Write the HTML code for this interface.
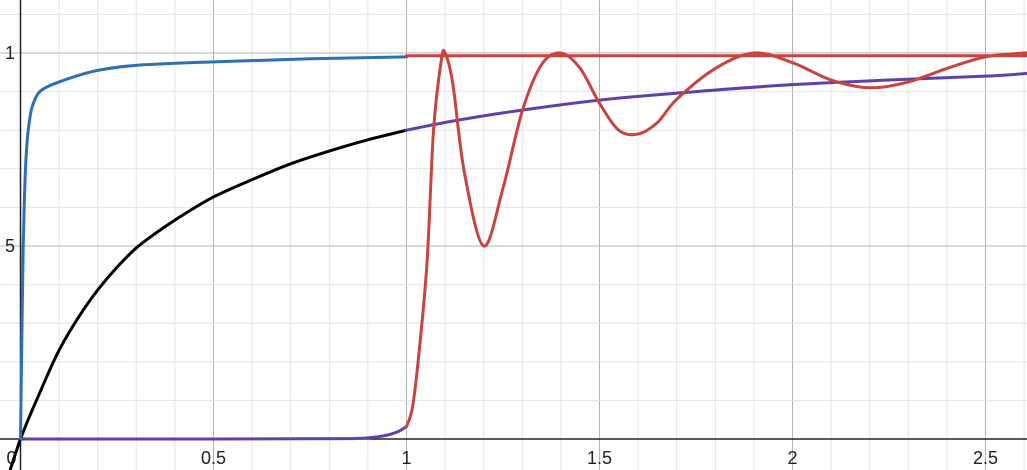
<!DOCTYPE html>
<html><head><meta charset="utf-8"><style>
html,body{margin:0;padding:0;background:#fff;overflow:hidden}
svg{display:block}
text{font-family:"Liberation Sans",sans-serif;font-size:18px;fill:#222}
</style></head><body>
<svg id="chart" width="1027" height="470" viewBox="0 0 1027 470"></svg>
<script>
const blueX=[0,0.004,0.007,0.01,0.015,0.02,0.03,0.05,0.075,0.1,0.15,0.2,0.3,0.5,0.75,1];
const blueY=[0,0.3,0.5,0.62,0.74,0.8,0.86,0.9,0.915,0.925,0.942,0.955,0.968,0.977,0.985,0.99];
const blackX=[-0.03,0,0.05,0.1,0.15,0.2,0.25,0.3,0.35,0.4,0.5,0.6,0.7,0.8,0.9,1];
const blackY=[-0.09,0,0.12,0.23,0.315,0.386,0.445,0.495,0.533,0.567,0.627,0.672,0.713,0.746,0.775,0.8];
const purpleLowX=[0,0.5,0.85,0.9,0.95,0.98,1];
const purpleLowY=[0,0,0.001,0.003,0.01,0.02,0.032];
const purpleHighX=[1,1.1,1.25,1.5,1.75,2,2.25,2.5,2.62];
const purpleHighY=[0.8,0.82,0.845,0.878,0.9,0.918,0.93,0.94,0.948];
const redX=[1,1.015,1.03,1.053,1.07,1.09,1.1,1.12,1.15,1.2,1.25,1.3,1.35,1.4,1.45,1.5,1.55,1.6,1.65,1.7,1.8,1.9,2.0,2.1,2.2,2.3,2.4,2.5,2.6,2.65];
const redY=[0.032,0.08,0.2,0.455,0.8,0.98,1,0.92,0.69,0.5,0.65,0.85,0.97,1,0.96,0.87,0.8,0.79,0.82,0.88,0.96,1,0.975,0.93,0.91,0.925,0.96,0.99,1,1];
const redFlatX=[1,2.66];
const redFlatY=[0.993,0.993];
const xTicks=["0","0.5","1","1.5","2","2.5"];
const xTickVals=[0,0.5,1,1.5,2,2.5];
const yTicks=["1","5"];
const yTickVals=[1,0.5];

const X0=20.5,Y0=439,S=386;
const sx=v=>X0+v*S, sy=v=>Y0-v*S;
const svg=document.getElementById('chart');
const NS='http://www.w3.org/2000/svg';
function mk(tag,attrs){const e=document.createElementNS(NS,tag);for(const k in attrs)e.setAttribute(k,attrs[k]);svg.appendChild(e);return e;}

for(let i=-1;i<=27;i++){
  const v=i/10, major=(i%5===0);
  const l=mk('line',{x1:sx(v),x2:sx(v),y1:0,y2:470,stroke:major?'#b4b4b4':'#e4e4e4','stroke-width':1});
  
  
}
for(let i=-1;i<=12;i++){
  const v=i/10, major=(i%5===0);
  const l=mk('line',{x1:0,x2:1027,y1:sy(v),y2:sy(v),stroke:major?'#b4b4b4':'#e4e4e4','stroke-width':1});
  
  
}
const ax=mk('line',{x1:0,x2:1027,y1:Y0,y2:Y0,stroke:'#222','stroke-width':1.5});


const ay=mk('line',{x1:X0,x2:X0,y1:0,y2:470,stroke:'#222','stroke-width':1.5});



xTicks.forEach((t,i)=>{
  const v=xTickVals[i];
  const tx=mk('text',{x:v===0?sx(v)-14:sx(v),y:464,'text-anchor':v===0?'start':'middle'});
  tx.textContent=t;
  
  
});
yTicks.forEach((t,i)=>{
  const tx=mk('text',{x:15,y:sy(yTickVals[i])+6,'text-anchor':'end'});
  tx.textContent=t;
  
  
});

function monoPath(xs,ys){
  const p=xs.map((x,i)=>[sx(x),sy(ys[i])]);
  const n=p.length;
  if(n<3){return 'M'+p.map(q=>q.join(',')).join(' L');}
  const d=[],m=new Array(n);
  for(let i=0;i<n-1;i++)d.push((p[i+1][1]-p[i][1])/(p[i+1][0]-p[i][0]));
  m[0]=d[0];m[n-1]=d[n-2];
  for(let i=1;i<n-1;i++){
    if(d[i-1]*d[i]<=0)m[i]=0;
    else{const h0=p[i][0]-p[i-1][0],h1=p[i+1][0]-p[i][0];
      const w1=2*h1+h0,w2=h1+2*h0;m[i]=(w1+w2)/(w1/d[i-1]+w2/d[i]);}
  }
  let s='M'+p[0][0]+','+p[0][1];
  for(let i=0;i<n-1;i++){
    const h=(p[i+1][0]-p[i][0])/3;
    s+=' C'+(p[i][0]+h)+','+(p[i][1]+m[i]*h)+' '+(p[i+1][0]-h)+','+(p[i+1][1]-m[i+1]*h)+' '+p[i+1][0]+','+p[i+1][1];
  }
  return s;
}
function crPath(xs,ys){
  const p=xs.map((x,i)=>[sx(x),sy(ys[i])]);
  let d='M'+p[0][0]+','+p[0][1];
  for(let i=0;i<p.length-1;i++){
    const p0=p[Math.max(0,i-1)],p1=p[i],p2=p[i+1],p3=p[Math.min(p.length-1,i+2)];
    const c1=[p1[0]+(p2[0]-p0[0])/6,p1[1]+(p2[1]-p0[1])/6];
    const c2=[p2[0]-(p3[0]-p1[0])/6,p2[1]-(p3[1]-p1[1])/6];
    d+=' C'+c1+' '+c2+' '+p2;
  }
  return d;
}
function series(d,color,name){
  const e=mk('path',{d:d,fill:'none',stroke:color,'stroke-width':3,'stroke-linejoin':'round','stroke-linecap':'round'});
  
  
}
series(monoPath(purpleLowX,purpleLowY),'#6042a6','purple-curve-low');
series(monoPath(blackX,blackY),'#000000','black-curve');
series(monoPath(blueX,blueY),'#2d70b3','blue-curve');
series(crPath(purpleHighX,purpleHighY),'#6042a6','purple-curve-high');
series(crPath(redFlatX,redFlatY),'#c74440','red-flat-line');
series(crPath(redX,redY),'#c74440','red-oscillation-curve');
</script>
</body></html>
